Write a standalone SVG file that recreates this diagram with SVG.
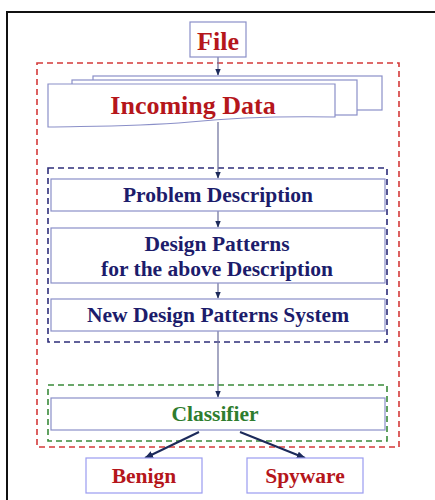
<svg xmlns="http://www.w3.org/2000/svg" width="435" height="500" viewBox="0 0 435 500">
<defs>
<style>
.t{font-family:"Liberation Serif","Times New Roman",serif;font-weight:bold;text-anchor:middle}
.red{fill:#b5161b}
.navy{fill:#1c1c6b}
.grn{fill:#2e7d2e}
.box{fill:#fff;stroke:#8a8fc8;stroke-width:1.2}
.lbox{fill:#fff;stroke:#9a9cf0;stroke-width:1.2}
.conn{stroke:#6a6d9a;stroke-width:1.2;fill:none}
.dark{stroke:#1c2a5a;stroke-width:2;fill:none}
</style>
<marker id="a" viewBox="0 0 10 10" refX="9" refY="5" markerWidth="7" markerHeight="7" orient="auto" markerUnits="userSpaceOnUse"><path d="M0,1 L10,5 L0,9 z" fill="#1c2a5a"/></marker>
<marker id="b" viewBox="0 0 10 10" refX="9" refY="5" markerWidth="9" markerHeight="9" orient="auto" markerUnits="userSpaceOnUse"><path d="M0,1 L10,5 L0,9 z" fill="#1c2a5a"/></marker>
</defs>
<rect x="0" y="0" width="435" height="500" fill="#fff"/>
<rect x="7" y="12" width="440" height="500" fill="none" stroke="#111" stroke-width="2"/>
<g id="groups">
<rect x="37" y="63" width="362" height="384" fill="none" stroke="#d43a3a" stroke-width="1.6" stroke-dasharray="6,4"/>
<rect x="48" y="168" width="339" height="174" fill="none" stroke="#2e2e7a" stroke-width="1.6" stroke-dasharray="6,4"/>
<rect x="48" y="385" width="339" height="56" fill="none" stroke="#3a8a3a" stroke-width="1.6" stroke-dasharray="6,4"/>
</g>
<g id="connectors">
<line class="conn" x1="218" y1="57" x2="218" y2="75" marker-end="url(#a)"/>
<line class="conn" x1="218" y1="122" x2="218" y2="178" marker-end="url(#a)"/>
<line class="conn" x1="218" y1="211" x2="218" y2="227" marker-end="url(#a)"/>
<line class="conn" x1="218" y1="283" x2="218" y2="298" marker-end="url(#a)"/>
<line class="conn" x1="218" y1="331" x2="218" y2="397" marker-end="url(#a)"/>
<line class="dark" x1="199" y1="432" x2="145" y2="458" marker-end="url(#b)"/>
<line class="dark" x1="240" y1="432" x2="305" y2="458" marker-end="url(#b)"/>
</g>
<g id="file">
<rect class="box" x="190" y="22" width="56" height="35"/>
<text class="t red" x="218" y="50" font-size="26">File</text>
</g>
<g id="incoming-data">
<rect class="box" x="93" y="76" width="289" height="34"/>
<rect class="box" x="72" y="80" width="285" height="35"/>
<path class="box" d="M48,84 H335 V117 C280,116 230,118 190,122 C130,127 90,126 48,127 Z"/>
<text class="t red" x="193" y="114" font-size="26">Incoming Data</text>
</g>
<g id="problem-description">
<rect class="box" x="51" y="179" width="334" height="32"/>
<text class="t navy" x="218" y="202" font-size="21.5">Problem Description</text>
</g>
<g id="design-patterns">
<rect class="box" x="51" y="228" width="334" height="55"/>
<text class="t navy" x="217" y="251" font-size="21.5">Design Patterns</text>
<text class="t navy" x="217" y="276" font-size="21.5">for the above Description</text>
</g>
<g id="new-design-patterns-system">
<rect class="box" x="51" y="299" width="334" height="32"/>
<text class="t navy" x="218" y="322" font-size="21.5">New Design Patterns System</text>
</g>
<g id="classifier">
<rect class="box" x="51" y="398" width="334" height="32"/>
<text class="t grn" x="215" y="421" font-size="21.5">Classifier</text>
</g>
<g id="benign">
<rect class="lbox" x="86" y="458" width="116" height="35"/>
<text class="t red" x="144" y="483" font-size="21.5">Benign</text>
</g>
<g id="spyware">
<rect class="lbox" x="247" y="458" width="116" height="35"/>
<text class="t red" x="305" y="483" font-size="21.5">Spyware</text>
</g>
</svg>
